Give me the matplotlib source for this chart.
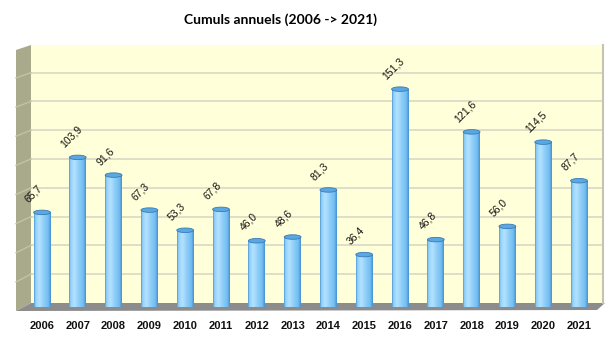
import numpy as np
import matplotlib
matplotlib.use("Agg")
import matplotlib.pyplot as plt
from matplotlib.patches import Polygon, Rectangle, Ellipse
from matplotlib.colors import LinearSegmentedColormap

# data
years = ["2006", "2007", "2008", "2009", "2010", "2011", "2012", "2013",
         "2014", "2015", "2016", "2017", "2018", "2019", "2020", "2021"]
values = [65.7, 103.9, 91.6, 67.3, 53.3, 67.8, 46.0, 48.6,
          81.3, 36.4, 151.3, 46.8, 121.6, 56.0, 114.5, 87.7]
labels = ["65,7", "103,9", "91,6", "67,3", "53,3", "67,8", "46,0", "48,6",
          "81,3", "36,4", "151,3", "46,8", "121,6", "56,0", "114,5", "87,7"]
grid_step = 20

W, H = 616, 340
fig = plt.figure(figsize=(W / 100, H / 100), dpi=100)
fig.patch.set_facecolor("white")

# axes placed so the bars sit on the floor of the "3D" box
ax = fig.add_axes([31 / W, (H - 307) / H, 572 / W, 262 / H])
ax.set_facecolor("none")
ax.axis("off")
ymax = 262 / 1.44


def px(x, y):
    # pixel (top-left origin) -> figure fraction
    return (x / W, 1 - y / H)


def deco(pts, **kw):
    p = Polygon([px(*q) for q in pts], closed=True, transform=fig.transFigure,
                clip_on=False, **kw)
    ax.add_patch(p)


# back wall, side wall, floor
deco([(31, 45), (603, 45), (603, 303), (31, 303)], facecolor="#ffffd9",
     edgecolor="none", zorder=0)
deco([(16, 50), (31, 45), (31, 303), (16, 311)], facecolor="#a9a98c",
     edgecolor="none", zorder=0)
deco([(16, 311), (31, 303), (605, 303), (597, 310)], facecolor="#8c8c8c",
     edgecolor="none", zorder=1)
ax.plot([603 / W, 603 / W], [1 - 45 / H, 1 - 303 / H], color="#c4c4b0",
        lw=1.5, transform=fig.transFigure, clip_on=False, zorder=1)

# gridlines on back wall and side wall
base = (307 - 303) / 1.44
for k in range(1, 9):
    gy = base + k * grid_step
    ypx = 307 - gy * 1.44
    ax.plot([31 / W, 603 / W], [1 - ypx / H] * 2, color="#d9d9c6", lw=1.2,
            transform=fig.transFigure, clip_on=False, zorder=0.5)
    ly = ypx + 5 + 3 * (ypx - 45) / 258
    ax.plot([16 / W, 31 / W], [1 - ly / H, 1 - ypx / H], color="#c2c2a8",
            lw=1.0, transform=fig.transFigure, clip_on=False, zorder=0.5)

# cylinder bars
cmap = LinearSegmentedColormap.from_list("cyl", [
    (0.0, "#4f95d2"), (0.08, "#8fd0fa"), (0.3, "#b4e2ff"),
    (0.6, "#8ccdf8"), (0.85, "#72bdf0"), (1.0, "#4590d2")])
grad = np.linspace(0, 1, 64).reshape(1, -1)
bw = 0.47
eh = 4.5 / 1.44
for i, v in enumerate(values):
    x0 = i - bw / 2
    im = ax.imshow(grad, cmap=cmap, extent=(x0, x0 + bw, 0, v), aspect="auto",
                   interpolation="bilinear", zorder=3)
    clip = Rectangle((x0, 0), bw, v, transform=ax.transData)
    im.set_clip_path(clip)
    ax.add_patch(Ellipse((i, 0), bw, eh, facecolor="#5fa9e0",
                         edgecolor="none", zorder=2.9))
    ax.add_patch(Ellipse((i, v), bw, eh, facecolor="#5aa8e2",
                         edgecolor="#3a7ab4", lw=0.6, zorder=4))
    ax.text(i - 0.34, v + 5.5, labels[i], rotation=45, rotation_mode="anchor",
            ha="left", va="bottom", fontsize=7.5, color="#111111",
            family="Liberation Sans", zorder=5)
    ax.text(i, -13.5, years[i], ha="center", va="center", fontsize=8,
            fontweight="bold", family="Liberation Sans", color="#111111",
            clip_on=False)

ax.set_xlim(-11 / 35.8, 15 + 24 / 35.8)
ax.set_ylim(0, ymax)

fig.text(280 / W, 1 - 20 / H, "Cumuls annuels (2006 -> 2021)", ha="center",
         va="center", fontsize=10, fontweight="bold", family="Lato")

fig.savefig("out.png", dpi=100)
